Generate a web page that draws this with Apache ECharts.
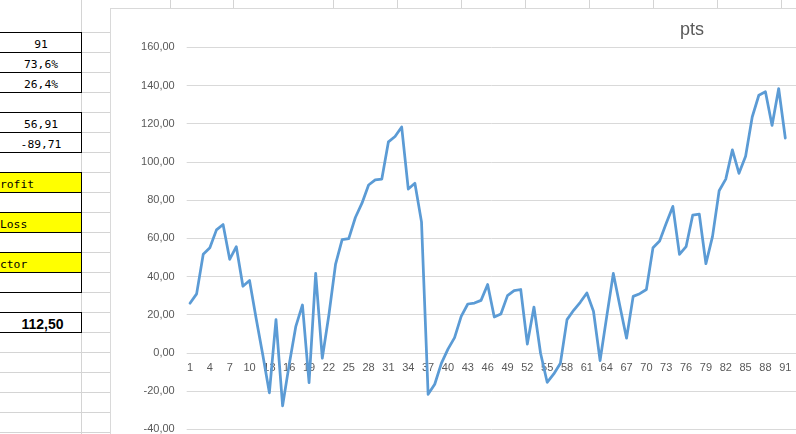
<!DOCTYPE html>
<html>
<head>
<meta charset="utf-8">
<script src="https://cdn.jsdelivr.net/npm/echarts@6/dist/echarts.min.js"></script>
<style>
  html, body { margin:0; padding:0; }
  body { width:796px; height:434px; overflow:hidden; position:relative; background:#fff; }
  .ln { position:absolute; background:#d4d4d4; }
  .cell { position:absolute; box-sizing:border-box; border:1px solid #000; height:21px;
          font-family:"DejaVu Sans Mono", monospace; font-size:11.3px; line-height:20px; color:#000; }
  #chartbox { position:absolute; left:110px; top:8px; width:720px; height:450px; background:#fff; border:1px solid #d9d9d9; box-sizing:border-box; }
  #chart { position:absolute; left:0; top:0; width:796px; height:434px; }
</style>
</head>
<body>
<div id="sheet"></div>
<div id="chartbox"></div>
<div id="chart"></div>
<script>
// ---- data ----
const categories = [1,2,3,4,5,6,7,8,9,10,11,12,13,14,15,16,17,18,19,20,
  21,22,23,24,25,26,27,28,29,30,31,32,33,34,35,36,37,38,39,40,
  41,42,43,44,45,46,47,48,49,50,51,52,53,54,55,56,57,58,59,60,
  61,62,63,64,65,66,67,68,69,70,71,72,73,74,75,76,77,78,79,80,
  81,82,83,84,85,86,87,88,89,90,91];
const pts = [26,30.9,51.6,55,64.4,67.2,49,55.6,34.9,37.9,
  18,-1,-20.9,17.4,-27.7,-6,13.9,25.1,-15.6,41.6,
  -2.8,20,46.3,59.3,59.8,70.9,78.4,87.9,90.6,91,
  110.5,113.3,118.3,85.8,88.8,68.6,-21.7,-16.4,-5.5,2,
  8,19.1,25.6,26.1,27.5,35.8,18.8,20.4,30,32.6,
  33.2,4.6,24,-0.2,-15.4,-11,-5.4,17.4,22.3,26.5,
  31.4,21.8,-4,19,41.6,24.4,7.7,29.6,31,33.2,
  55.1,58.6,67.9,76.7,51.6,55.6,72.1,72.6,46.7,61,
  84.9,91,106.3,94,103,123.5,134.9,136.7,119.1,138.4,112.5];
const yMin = -40, yMax = 160, yStep = 20;
const seriesName = 'pts';
// sheet cells (text as shown)
const tableTexts = ['91','73,6%','26,4%','','56,91','-89,71','','rofit','','Loss','','ctor','','','112,50'];

// ---- spreadsheet background ----
const sheet = document.getElementById('sheet');
function addLine(x,y,w,h){ const d=document.createElement('div'); d.className='ln';
  d.style.left=x+'px'; d.style.top=y+'px'; d.style.width=w+'px'; d.style.height=h+'px'; sheet.appendChild(d); }
for (let k=0;k<21;k++){ addLine(0, 32+20*k, 110, 1); }
addLine(81, 0, 1, 434);
[170,233,333,397,461,525,589,653,717,781].forEach(x=>addLine(x,0,1,9));
// table cells
const rowsSpec = [
  {r:0, t:0, align:'center'}, {r:1, t:1, align:'center'}, {r:2, t:2, align:'center'},
  {r:4, t:4, align:'center'}, {r:5, t:5, align:'center'},
  {r:7, t:7, align:'left', yellow:true}, {r:8, t:8, align:'left'},
  {r:9, t:9, align:'left', yellow:true}, {r:10, t:10, align:'left'},
  {r:11, t:11, align:'left', yellow:true}, {r:12, t:12, align:'left'},
  {r:14, t:14, align:'center', bold:true}
];
rowsSpec.forEach(s=>{
  const d=document.createElement('div'); d.className='cell';
  d.style.left='-2px'; d.style.width='84px'; d.style.top=(32+20*s.r)+'px';
  d.style.textAlign=s.align; d.style.paddingTop='2px';
  if (s.align==='left') { d.style.paddingLeft='1px'; }
  if (s.align==='center') { d.style.paddingLeft='2px'; }
  if (s.yellow) d.style.background='#ffff00';
  if (s.bold) { d.style.fontFamily='"Liberation Sans", Arial, sans-serif'; d.style.fontWeight='bold'; d.style.fontSize='14px'; d.style.paddingLeft='5px'; d.style.paddingTop='1px'; }
  d.textContent = tableTexts[s.t];
  sheet.appendChild(d);
});

// ---- chart ----
const chart = echarts.init(document.getElementById('chart'), null, {renderer:'canvas'});
const fmt = v => v.toFixed(2).replace('.', ',');
const font = '"Liberation Sans", Arial, sans-serif';
chart.setOption({
  backgroundColor: 'transparent',
  animation: false,
  title: { text: seriesName, left: 680, top: 21, padding: 0,
    textStyle: { fontFamily: font, fontSize: 18, fontWeight: 'normal', color: '#595959' } },
  grid: [
    { left: 186.7, right: 0, top: 47.3, bottom: 4.7, containLabel: false, outerBoundsMode: 'none' },
    { left: 186.7, right: 7.4, top: 47.3, bottom: 4.7, containLabel: false, outerBoundsMode: 'none' }
  ],
  xAxis: [
    { gridIndex: 0, type: 'value', min: 0, max: 1, show: false },
    { gridIndex: 1, type: 'category', data: categories, boundaryGap: true, position: 'bottom',
      offset: -76.3,
      axisLine: { show: false, onZero: false }, axisTick: { show: false },
      axisLabel: { show: true, interval: 2, margin: 9, color: '#595959', fontSize: 11, fontFamily: font },
      splitLine: { show: false } }
  ],
  yAxis: [
    { gridIndex: 0, type: 'value', min: yMin, max: yMax, interval: yStep,
      axisLine: { show: false }, axisTick: { show: false },
      axisLabel: { margin: 12, formatter: fmt, color: '#595959', fontSize: 11, fontFamily: font },
      splitLine: { lineStyle: { color: '#d9d9d9', width: 1 } } },
    { gridIndex: 1, type: 'value', min: yMin, max: yMax, interval: yStep,
      axisLine: { show: false }, axisTick: { show: false }, axisLabel: { show: false }, splitLine: { show: false } }
  ],
  series: [{
    name: seriesName, type: 'line', xAxisIndex: 1, yAxisIndex: 1, data: pts,
    symbol: 'none', smooth: false, z: 3,
    lineStyle: { color: '#5b9bd5', width: 2.75, cap: 'round', join: 'round' }
  }]
});
</script>
</body>
</html>
